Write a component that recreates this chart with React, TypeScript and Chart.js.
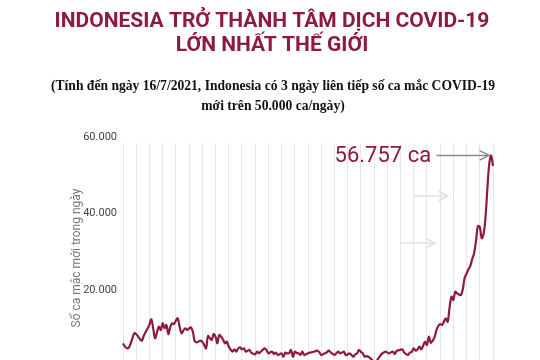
import { useEffect, useRef } from "react";
import { Chart, registerables } from "chart.js";

Chart.register(...registerables);

// ---- Data ----
const startDate = { year: 2021, month: 1, day: 1 }; // first day shown
const titleLines = ["INDONESIA TRỞ THÀNH TÂM DỊCH COVID-19", "LỚN NHẤT THẾ GIỚI"];
const subtitleLines = [
  "(Tính đến ngày 16/7/2021, Indonesia có 3 ngày liên tiếp số ca mắc COVID-19",
  "mới trên 50.000 ca/ngày)",
];
const yAxisTitle = "Số ca mắc mới trong ngày";
const yTickValues = [0, 20000, 40000, 60000];
const peakText = "56.757 ca";
const peakIndex = 195;

// daily new cases, 1/1/2021 .. 16/7/2021
const newCases = [
  7630, 6800, 6330, 6480, 7500, 9000, 10250, 10000, 9400, 8700,
  8310, 9600, 10600, 11500, 12500, 13910, 11500, 8940, 10500, 11970,
  11110, 12860, 11550, 12420, 10060, 11800, 12860, 12680, 13540, 14170,
  11970, 10250, 11000, 11550, 11110, 11500, 11820, 10670, 8200, 7890,
  8100, 8310, 8050, 7200, 6330, 9540, 9000, 8500, 10060, 9360,
  7630, 9800, 9360, 8600, 7630, 8050, 6800, 6000, 5440, 6060,
  5440, 6300, 6590, 6060, 6330, 5440, 5700, 5880, 5180, 4900,
  4760, 5440, 5020, 5440, 5900, 6330, 5880, 5020, 5300, 5440,
  4840, 5180, 4570, 4800, 5020, 4130, 5180, 5000, 5020, 5880,
  4130, 5440, 5100, 5020, 4600, 5440, 4570, 4800, 5020, 5200,
  5300, 5440, 5600, 5700, 5280, 4570, 4800, 5020, 5300, 5700,
  5280, 4900, 4570, 5000, 5440, 5020, 5200, 5440, 4570, 4700,
  5020, 4600, 4130, 4700, 5020, 5880, 5400, 5020, 4130, 4300,
  4130, 3700, 3270, 2400, 2600, 3500, 4200, 4800, 5180, 5440,
  5200, 5020, 5300, 5440, 4840, 5700, 5800, 5900, 6060, 5180,
  4800, 4570, 5200, 5440, 6330, 5700, 6000, 6740, 6060, 7000,
  8050, 7190, 9360, 7790, 8300, 9200, 11000, 12160, 12680, 12420,
  13300, 14170, 13280, 17000, 19810, 18950, 21120, 20700, 20400, 20260,
  21800, 24800, 25800, 27000, 27900, 29700, 31200, 34400, 38300, 38100,
  35100, 36200, 40400, 47900, 54500, 56757, 54000,
];

const dayLabels = newCases.map((_, i) => {
  const d = new Date(Date.UTC(startDate.year, startDate.month - 1, startDate.day + i));
  return `${d.getUTCDate()}/${d.getUTCMonth() + 1}/${d.getUTCFullYear()}`;
});

const RED = "#8c1a42";

const fmt = (v: number) => String(v).replace(/\B(?=(\d{3})+(?!\d))/g, ".");

function drawArrow(ctx: CanvasRenderingContext2D, x1: number, x2: number, y: number, color: string, w: number) {
  ctx.save();
  ctx.strokeStyle = color;
  ctx.lineWidth = w;
  ctx.lineCap = "round";
  ctx.lineJoin = "round";
  ctx.beginPath();
  ctx.moveTo(x1, y);
  ctx.lineTo(x2, y);
  ctx.moveTo(x2 - 9, y - 4.5);
  ctx.lineTo(x2, y);
  ctx.lineTo(x2 - 9, y + 4.5);
  ctx.stroke();
  ctx.restore();
}

const decorPlugin = {
  id: "decor",
  afterDraw(chart: any) {
    const ctx: CanvasRenderingContext2D = chart.ctx;
    const xs = chart.scales.x;
    const ys = chart.scales.y;
    ctx.save();
    // title
    ctx.fillStyle = RED;
    ctx.textAlign = "center";
    ctx.textBaseline = "alphabetic";
    ctx.font = "bold 21px Roboto";
    ctx.fillText(titleLines[0], 272, 27);
    ctx.fillText(titleLines[1], 272, 51);
    // subtitle
    ctx.fillStyle = "#111";
    ctx.font = "bold 13.6px 'Liberation Serif'";
    ctx.fillText(subtitleLines[0], 273, 90);
    ctx.fillText(subtitleLines[1], 273, 110);
    // y-axis title
    ctx.save();
    ctx.translate(77, 258);
    ctx.rotate(-Math.PI / 2);
    ctx.fillStyle = "#777";
    ctx.font = "12px Roboto";
    ctx.textBaseline = "middle";
    ctx.fillText(yAxisTitle, 0, 0);
    ctx.restore();
    // ghost arrows
    drawArrow(ctx, 414, 448, 196, "#e2e2e2", 1.5);
    drawArrow(ctx, 401, 435, 243, "#e2e2e2", 1.5);
    // peak annotation
    const px = xs.getPixelForValue(peakIndex);
    const py = ys.getPixelForValue(newCases[peakIndex]);
    drawArrow(ctx, px - 54, px - 2, py, "#8a8a8a", 1.5);
    ctx.fillStyle = RED;
    ctx.font = "22px Roboto";
    ctx.textAlign = "right";
    ctx.textBaseline = "middle";
    ctx.fillText(peakText, px - 60, py + 1);
    ctx.restore();
  },
};

export default function App() {
  const ref = useRef<HTMLCanvasElement | null>(null);
  useEffect(() => {
    document.body.style.margin = "0";
    const canvas = ref.current!;
    const chart = new Chart(canvas, {
      type: "line",
      data: {
        labels: dayLabels,
        datasets: [
          {
            data: newCases,
            borderColor: RED,
            borderWidth: 2.2,
            pointRadius: 0,
            tension: 0.35,
            fill: false,
          },
        ],
      },
      options: {
        animation: false,
        responsive: false,
        maintainAspectRatio: false,
        layout: { padding: { top: 143, bottom: 27.5, right: 47, left: 0 } },
        plugins: { legend: { display: false }, tooltip: { enabled: false }, title: { display: false } },
        scales: {
          x: {
            type: "category",
            offset: false,
            ticks: { display: false, autoSkip: false },
            border: { display: false },
            grid: {
              drawTicks: false,
              lineWidth: 1,
              color: (c: any) => (c.index % 7 === 0 ? "#e6e6e6" : "rgba(0,0,0,0)"),
            },
          },
          y: {
            min: 0,
            max: 60000,
            afterFit: (s: any) => {
              s.width = 123;
            },
            afterBuildTicks: (s: any) => {
              s.ticks = yTickValues.map((v) => ({ value: v }));
            },
            border: { display: false },
            grid: { display: false, drawTicks: false },
            ticks: {
              padding: 6,
              labelOffset: -6,
              color: "#444",
              font: { family: "Roboto", size: 11 },
              callback: (v: any) => fmt(Number(v)),
            },
          },
        },
      },
      plugins: [decorPlugin],
    });
    return () => chart.destroy();
  }, []);
  return (
    <div style={{ position: "fixed", left: 0, top: 0, width: 540, height: 360, overflow: "hidden", background: "#fff" }}>
      <canvas ref={ref} width={540} height={400} style={{ display: "block", width: 540, height: 400 }} />
    </div>
  );
}
